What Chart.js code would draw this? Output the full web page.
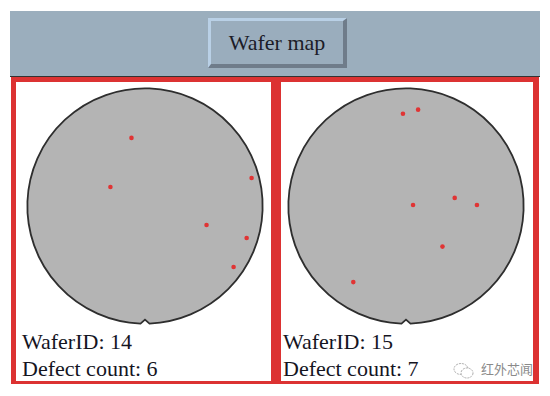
<!DOCTYPE html>
<html>
<head>
<meta charset="utf-8">
<script src="https://cdn.jsdelivr.net/npm/chart.js@4/dist/chart.umd.min.js"></script>
<style>
  html, body { margin: 0; padding: 0; background: #fff; }
  body { width: 550px; height: 396px; position: relative; overflow: hidden; font-family: "Liberation Serif", "DejaVu Serif", serif; }
  .bar { position: absolute; left: 10px; top: 11px; width: 530px; height: 65px; background: #9baebd; border-bottom: 1px solid #333; }
  .btn { position: absolute; left: 198px; top: 7px; width: 132px; height: 43px; box-sizing: content-box;
         background: #9aadbd; border-style: solid; border-width: 3px 4px 4px 3px;
         border-color: #b9d0e6 #6f7c8a #6f7c8a #b9d0e6; color: #1c1c28; font-size: 22px;
         text-align: center; line-height: 43px; }
  .panel { position: absolute; top: 77px; height: 299px; background: #fff; border-style: solid; border-color: #dc3232; }
  .p1 { left: 11px; width: 255px; border-width: 5px 5px 3px 5px; }
  .p2 { left: 276px; width: 252px; border-width: 5px 6px 3px 5px; }
  canvas { position: absolute; }
  .lbl { position: absolute; font-size: 22px; color: #15151f; white-space: nowrap; }
  .wm { position: absolute; left: 481px; top: 359px; font-family: "Noto Sans CJK SC", sans-serif; font-size: 13px; color: #8a8a8a; }
  .wmicon { position: absolute; left: 453px; top: 362px; }
</style>
</head>
<body>
<div class="bar"><div class="btn">Wafer map</div></div>
<div class="panel p1"></div>
<div class="panel p2"></div>
<canvas id="w1" width="240" height="240" style="left:25px; top:86px;"></canvas>
<canvas id="w2" width="240" height="240" style="left:286px; top:86px;"></canvas>
<div class="lbl" id="id1" style="left:22px; top:329px;"></div>
<div class="lbl" id="dc1" style="left:22px; top:356px;"></div>
<div class="lbl" id="id2" style="left:283px; top:329px;"></div>
<div class="lbl" id="dc2" style="left:283px; top:356px;"></div>
<svg class="wmicon" width="22" height="18" viewBox="0 0 22 18">
  <ellipse cx="8" cy="7" rx="7" ry="5.5" fill="none" stroke="#aaa" stroke-width="1" stroke-dasharray="2 1"/>
  <ellipse cx="14" cy="11" rx="6" ry="5" fill="#fff" stroke="#aaa" stroke-width="1" stroke-dasharray="2 1"/>
</svg>
<div class="wm">红外芯闻</div>
<script>
// wafer ids and defect positions (wafer radius = 100 units, centre = 0,0)
const waferIds = [14, 15];
const waferRadius = 100;
const defects14X = [-11.5, -29.4, 90.6, 52.3, 86.4, 75.3];
const defects14Y = [57.9, 16.2, 23.8, -16.2, -27.2, -51.9];
const defects15X = [-2.6, 10.3, 41.4, 60.3, 6.0, 31.0, -44.8];
const defects15Y = [78.4, 81.9, 6.9, 0.9, 0.9, -34.5, -64.7];
const axisRange = 102;

const waferOutline = {
  id: 'waferOutline',
  beforeDatasetsDraw(chart) {
    const ctx = chart.ctx;
    const sx = chart.scales.x, sy = chart.scales.y;
    const cx = sx.getPixelForValue(0);
    const cy = sy.getPixelForValue(0);
    const r = sx.getPixelForValue(waferRadius) - cx;
    const d = 4.5 / r;
    ctx.save();
    ctx.beginPath();
    ctx.arc(cx, cy, r, Math.PI / 2 + d, Math.PI / 2 - d + Math.PI * 2);
    ctx.lineTo(cx, cy + r - 4);
    ctx.closePath();
    ctx.fillStyle = '#b4b4b4';
    ctx.fill();
    ctx.lineWidth = 1.8;
    ctx.strokeStyle = '#2e2e2e';
    ctx.stroke();
    ctx.restore();
  }
};

function makeWafer(canvasId, xs, ys) {
  const pts = xs.map((v, i) => ({ x: v, y: ys[i] }));
  new Chart(document.getElementById(canvasId), {
    type: 'scatter',
    data: {
      datasets: [{
        label: 'defects',
        data: pts,
        backgroundColor: '#e03434',
        borderWidth: 0,
        pointRadius: 2.3,
        pointStyle: 'circle'
      }]
    },
    options: {
      responsive: false,
      animation: false,
      layout: { padding: 0, autoPadding: false },
      plugins: { legend: { display: false }, tooltip: { enabled: false } },
      scales: {
        x: { type: 'linear', min: -axisRange, max: axisRange, display: false },
        y: { type: 'linear', min: -axisRange, max: axisRange, display: false }
      }
    },
    plugins: [waferOutline]
  });
}

makeWafer('w1', defects14X, defects14Y);
makeWafer('w2', defects15X, defects15Y);

document.getElementById('id1').textContent = 'WaferID: ' + waferIds[0];
document.getElementById('dc1').textContent = 'Defect count: ' + defects14X.length;
document.getElementById('id2').textContent = 'WaferID: ' + waferIds[1];
document.getElementById('dc2').textContent = 'Defect count: ' + defects15X.length;
</script>
</body>
</html>
